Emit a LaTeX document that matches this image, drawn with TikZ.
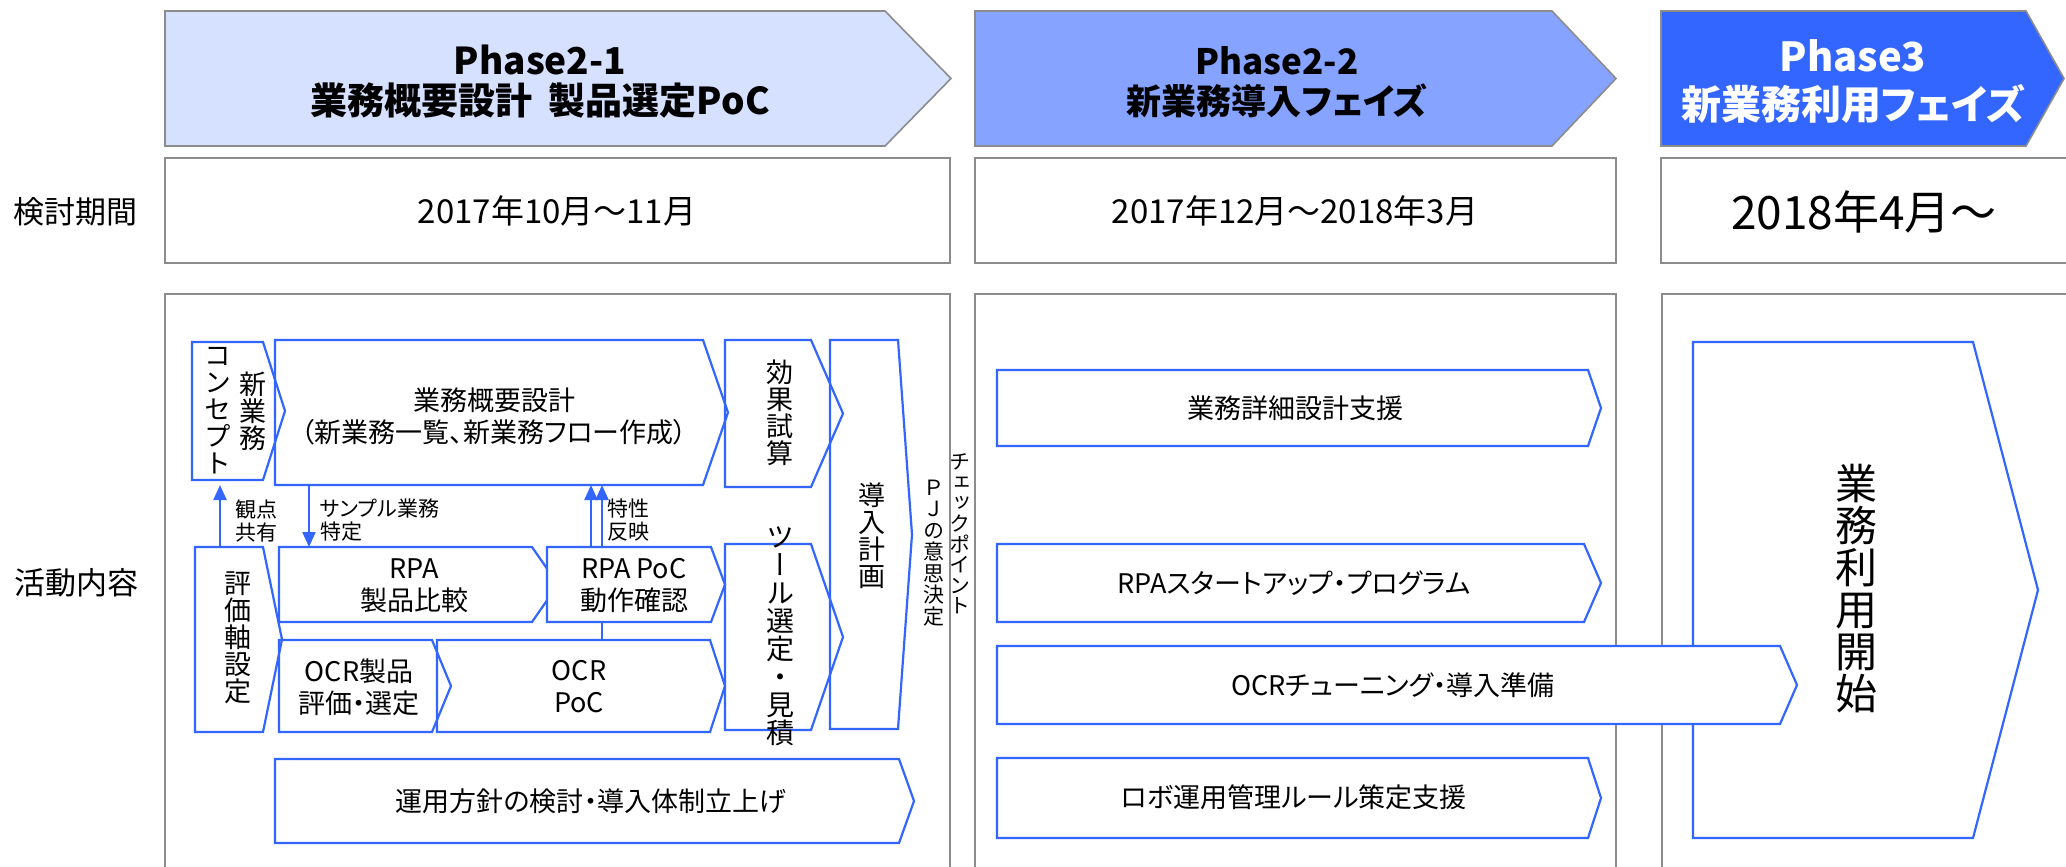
\documentclass[tikz,border=0pt]{standalone}
\usepackage{fontspec}
\setmainfont{Noto Sans CJK JP}[RawFeature=+palt]
\newfontfamily\vjp{Noto Sans CJK JP}[RawFeature=+vert]
\usetikzlibrary{arrows.meta,fit,backgrounds}
\definecolor{bluec}{RGB}{51,102,255}
\definecolor{grayc}{RGB}{140,140,140}
\definecolor{ph1c}{RGB}{214,224,255}
\definecolor{ph2c}{RGB}{133,163,255}
\definecolor{ph3c}{RGB}{51,102,255}
\newcommand\mkpent[7]{%
  \path[#7] (#2,#3) -- (#4,#3) -- (#6,{(#3+#5)/2}) -- (#4,#5) -- (#2,#5) -- cycle;
  \node[inner sep=0pt, outer sep=0pt, fit={(#2,#3) (#6,#5)}] (#1) {};
}
\begin{document}
\begin{tikzpicture}[x=1pt,y=-1pt,
  hdr/.style={draw=grayc, line width=1.6pt, line join=miter},
  frame/.style={draw=grayc, line width=2pt},
  bshape/.style={draw=bluec, line width=2.2pt, line join=miter},
  txt/.style={align=center, inner sep=0pt, font=\fontsize{27}{32}\selectfont},
  vt/.style={align=center, inner sep=0pt, font=\vjp\fontsize{27}{27}\selectfont},
  note/.style={align=left, inner sep=0pt, font=\fontsize{21}{23}\selectfont},
  conn/.style={draw=bluec, line width=2.2pt, -{Triangle[length=15pt,width=13pt]}},
  title/.style={align=center, inner sep=0pt, font=\bfseries\fontsize{35}{40}\selectfont},
  period/.style={inner sep=0pt, font=\fontsize{33}{40}\selectfont},
  side/.style={inner sep=0pt, font=\fontsize{31}{36}\selectfont}]
\useasboundingbox (0,0) rectangle (2066,867);
\begin{pgfonlayer}{background}
\fill[white] (0,0) rectangle (2066,867);
\end{pgfonlayer}

% header arrows
\mkpent{ph1}{165}{11}{885}{146}{951}{hdr, fill=ph1c}
\mkpent{ph2}{975}{11}{1552}{146}{1616}{hdr, fill=ph2c}
\mkpent{ph3}{1661}{11}{2026}{146}{2064}{hdr, fill=ph3c}
\node[title, font=\bfseries\fontsize{37}{40}\selectfont] (ph1t) at (540,82) {Phase2-1\\業務概要設計\hspace{0.45em}製品選定PoC};
\node[title] (ph2t) at (1277,82) {Phase2-2\\新業務導入フェイズ};
\node[title, text=white, font=\bfseries\fontsize{40}{48}\selectfont] (ph3t) at (1853,82) {Phase3\\新業務利用フェイズ};

% period row
\draw[frame] (165,158) rectangle (950,263);
\draw[frame] (975,158) rectangle (1616,263);
\draw[frame] (2080,158) -- (1661,158) -- (1661,263) -- (2080,263);
\node[period] (per1) at (557,211) {2017年10月～11月};
\node[period] (per2) at (1295,211) {2017年12月～2018年3月};
\node[period, font=\fontsize{46}{50}\selectfont] (per3) at (1864,212) {2018年4月～};
\node[side] (lab1) at (75,212) {検討期間};
\node[side] (lab2) at (76,583) {活動内容};

% activity frames
\draw[frame] (165,880) -- (165,294) -- (950,294) -- (950,880);
\draw[frame] (975,880) -- (975,294) -- (1616,294) -- (1616,880);
\draw[frame] (1662,880) -- (1662,294) -- (2080,294);

% phase 2-1 shapes
\mkpent{concept}{192}{342}{263}{480}{285}{bshape}
\mkpent{gaiyou}{275}{340}{703}{485}{728}{bshape}
\mkpent{dounyu}{830}{340}{898}{729}{912}{bshape}
\mkpent{kouka}{725}{340}{811}{487}{843}{bshape}
\mkpent{hyouka}{195}{547}{263}{732}{282}{bshape}
\mkpent{rpahikaku}{279}{547}{532}{622}{558}{bshape}
\mkpent{rpapoc}{547}{547}{711}{622}{725}{bshape, fill=white}
\mkpent{ocrpoc}{437}{640}{710}{732}{725}{bshape}
\mkpent{ocrhin}{279}{640}{432}{732}{451}{bshape}
\mkpent{tool}{725}{544}{811}{730}{843}{bshape}
\mkpent{unyou}{275}{759}{899}{843}{914}{bshape}

% phase 2-2 shapes
\mkpent{shosai}{997}{370}{1588}{446}{1601}{bshape}
\mkpent{rpasu}{997}{544}{1584}{622}{1601}{bshape}
\mkpent{robo}{997}{758}{1588}{838}{1601}{bshape}

% phase 3 shapes
\mkpent{riyou}{1693}{342}{1973}{838}{2038}{bshape, fill=white}
\mkpent{ocrtune}{997}{646}{1780}{724}{1797}{bshape, fill=white}

% connectors
\begin{pgfonlayer}{background}
\coordinate (xa) at (220,0);
\coordinate (xb) at (309,0);
\coordinate (xc) at (591,0);
\coordinate (xd) at (602,0);
\draw[conn, shorten >=5pt] (xa |- hyouka.north) -- (xa |- concept.south);
\draw[conn] (xb |- gaiyou.south) -- (xb |- rpahikaku.north);
\draw[conn] (xc |- rpapoc.north) -- (xc |- gaiyou.south);
\draw[conn] (xd |- ocrpoc.north) -- (xd |- gaiyou.south);
\end{pgfonlayer}

% texts
\node[vt] (concept-t2) at (253,411) {新\\業\\務};
\node[vt] (concept-t1) at (218,411) {コ\\ン\\セ\\プ\\ト};
\node[txt] (gaiyou-t) at (494,416) {業務概要設計\\（新業務一覧、新業務フロー作成）};
\node[vt] (kouka-t) at (780,413) {効\\果\\試\\算};
\node[vt] (dounyu-t) at (872,536) {導\\入\\計\\画};
\node[vt] (hyouka-t) at (238,638) {評\\価\\軸\\設\\定};
\node[txt] (rpahikaku-t) at (414,586) {RPA\\製品比較};
\node[txt] (rpapoc-t) at (634,586) {RPA PoC\\動作確認};
\node[txt] (ocrhin-t) at (359,687) {OCR製品\\評価・選定};
\node[txt] (ocrpoc-t) at (579,687) {OCR\\PoC};
\node[vt, font=\vjp\fontsize{28}{28}\selectfont] (tool-t) at (780,636) {ツ\\ー\\ル\\選\\定\\・\\見\\積};
\node[txt] (unyou-t) at (591,801) {運用方針の検討・導入体制立上げ};
\node[txt] (shosai-t) at (1295,408) {業務詳細設計支援};
\node[txt] (rpasu-t) at (1294,583) {RPAスタートアップ・プログラム};
\node[txt] (ocrtune-t) at (1393,685) {OCRチューニング・導入準備};
\node[txt] (robo-t) at (1294,797) {ロボ運用管理ルール策定支援};
\node[vt, font=\vjp\fontsize{42}{42}\selectfont] (riyou-t) at (1856,589) {業\\務\\利\\用\\開\\始};
\node[vt, font=\vjp\fontsize{21}{21.5}\selectfont] (pj-t) at (934,553) {Ｐ\\Ｊ\\の\\意\\思\\決\\定};
\node[vt, font=\vjp\fontsize{21}{20.6}\selectfont] (check-t) at (960,534) {チ\\ェ\\ッ\\ク\\ポ\\イ\\ン\\ト};
\node[note, align=center] (kanten-t) at (256,521) {観点\\共有};
\node[note, anchor=west] (sample-t) at (320,520) {サンプル業務\\特定};
\node[note, anchor=west] (tokusei-t) at (607,520) {特性\\反映};
\end{tikzpicture}
\end{document}
